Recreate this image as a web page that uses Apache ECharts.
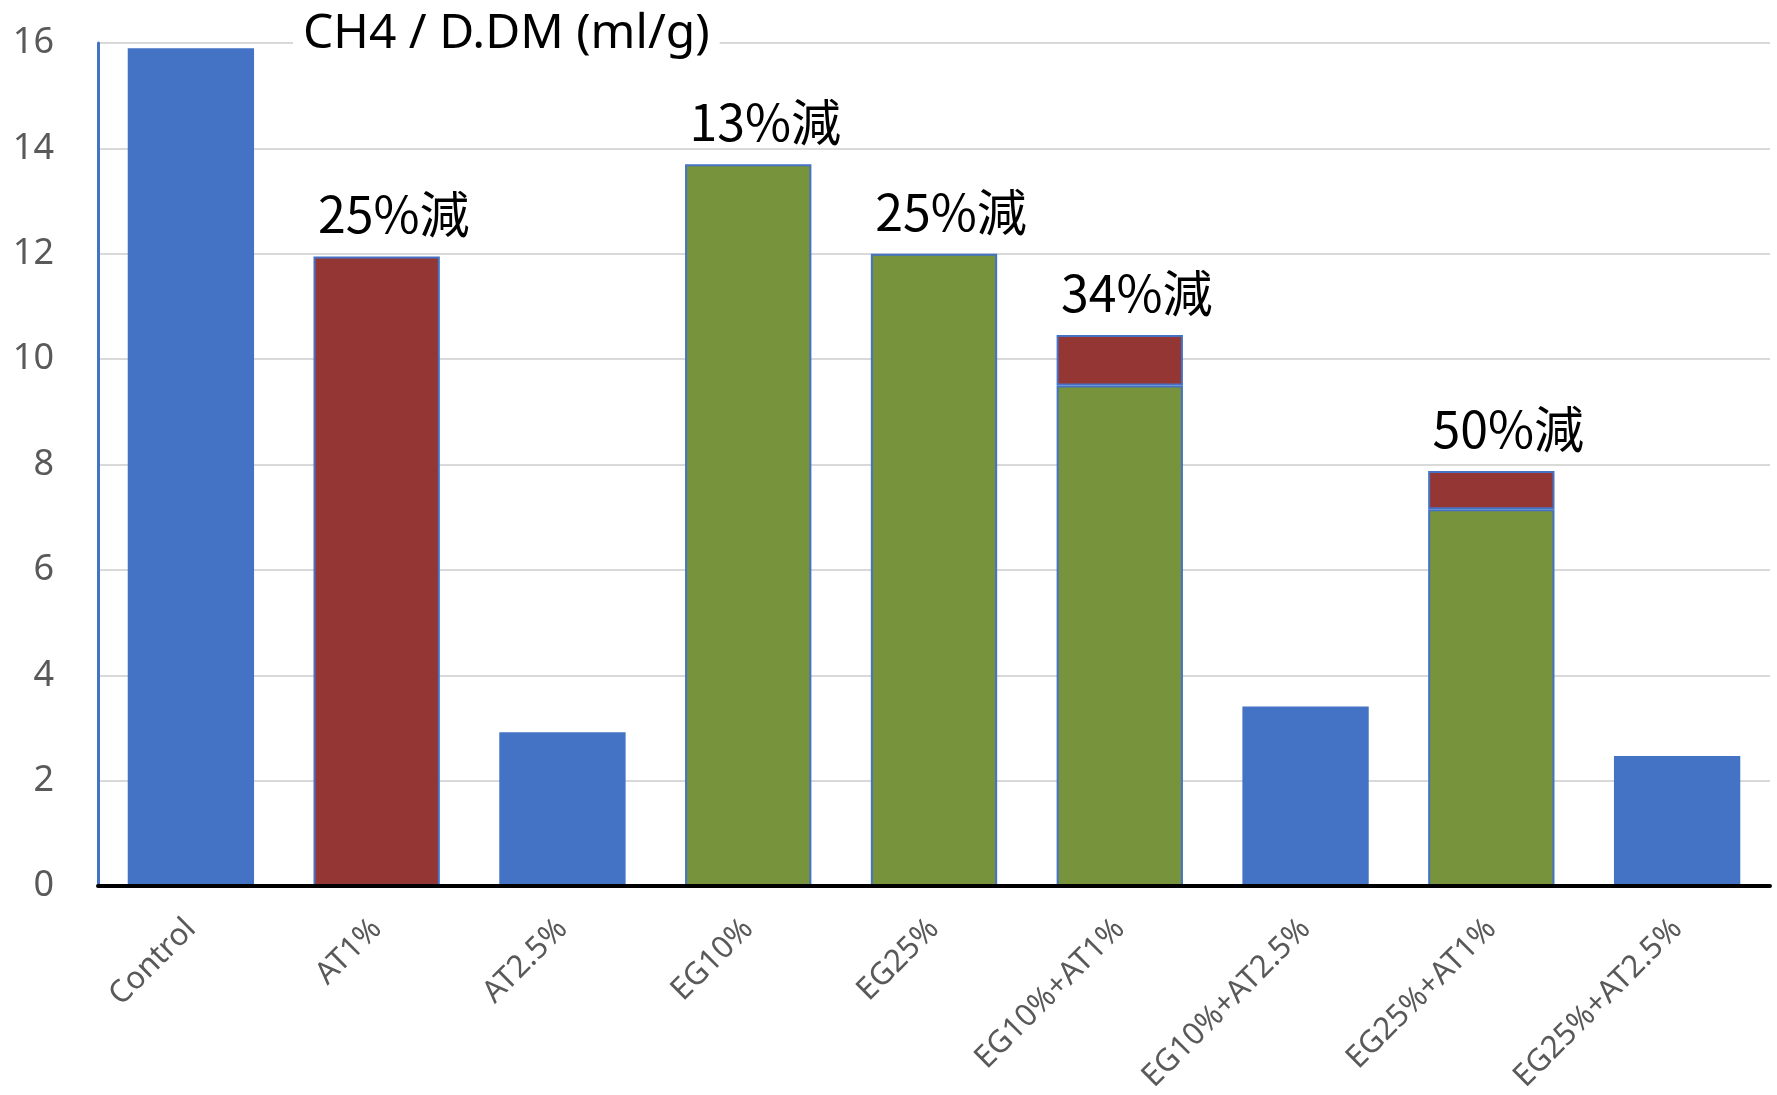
<!DOCTYPE html>
<html>
<head>
<meta charset="utf-8">
<title>CH4 / D.DM</title>
<script src="https://cdn.jsdelivr.net/npm/echarts@6/dist/echarts.min.js"></script>
<style>
  html, body { margin: 0; padding: 0; background: #fff; }
  #chart { width: 1777px; height: 1095px; }
</style>
</head>
<body>
<div id="chart"></div>
<script>
// Treatment groups along the x axis
const categories = ['Control', 'AT1%', 'AT2.5%', 'EG10%', 'EG25%', 'EG10%+AT1%', 'EG10%+AT2.5%', 'EG25%+AT1%', 'EG25%+AT2.5%'];

// Lower segment of each column (ml/g)
const baseValues = [15.9, 11.95, 2.92, 13.7, 12.0, 9.5, 3.41, 7.15, 2.47];
// Upper segment stacked on the combined treatments (ml/g)
const topValues = [null, null, null, null, null, 0.96, null, 0.73, null];
// Which fill each lower segment uses
const baseKinds = ['blue', 'red', 'blue', 'green', 'green', 'green', 'blue', 'green', 'blue'];
// Reduction notes written above selected columns
const reductionNotes = ['', '25%減', '', '13%減', '25%減', '34%減', '', '50%減', ''];

const yTicks = { min: 0, max: 16, interval: 2 };
const chartTitle = 'CH4 / D.DM (ml/g)';

const palette = { blue: '#4472C4', red: '#943634', green: '#77933C' };

const noteLabel = (text) => ({
  show: text !== '',
  position: 'top',
  distance: 17,
  offset: [17, 0],
  formatter: text,
  color: '#000',
  fontSize: 50,
  fontFamily: '"Noto Sans CJK JP", "Noto Sans", sans-serif'
});

const baseData = baseValues.map((v, i) => {
  const kind = baseKinds[i];
  const hasTop = topValues[i] !== null;
  return {
    value: v,
    itemStyle: {
      color: palette[kind],
      borderColor: palette.blue,
      borderWidth: kind === 'blue' ? 0 : 2
    },
    label: noteLabel(hasTop ? '' : reductionNotes[i])
  };
});

const topData = topValues.map((v, i) => {
  if (v === null) return { value: null };
  return {
    value: v,
    itemStyle: { color: palette.red, borderColor: palette.blue, borderWidth: 2 },
    label: noteLabel(reductionNotes[i])
  };
});

const chart = echarts.init(document.getElementById('chart'), null, { renderer: 'canvas' });

chart.setOption({
  backgroundColor: '#fff',
  animation: false,
  title: {
    text: chartTitle,
    left: 293,
    top: 7,
    padding: [0, 10],
    backgroundColor: '#fff',
    z: 10,
    textStyle: {
      color: '#000',
      fontSize: 48,
      fontWeight: 'normal',
      lineHeight: 54,
      fontFamily: '"Noto Sans", sans-serif'
    }
  },
  grid: { left: 98, right: 7, top: 43, bottom: 205 },
  xAxis: {
    type: 'category',
    data: categories,
    z: 3,
    axisLine: { show: true, lineStyle: { color: '#000', width: 4 } },
    axisTick: { show: false },
    axisLabel: {
      rotate: 45,
      margin: 38,
      color: '#595959',
      fontSize: 31,
      fontFamily: '"Noto Sans", sans-serif'
    }
  },
  yAxis: {
    type: 'value',
    min: yTicks.min,
    max: yTicks.max,
    interval: yTicks.interval,
    axisLine: { show: true, lineStyle: { color: '#4472C4', width: 3 } },
    axisTick: { show: false },
    splitLine: { show: true, lineStyle: { color: '#D9D9D9', width: 2 } },
    axisLabel: {
      margin: 44,
      color: '#595959',
      fontSize: 36,
      fontFamily: '"Noto Sans", sans-serif'
    }
  },
  series: [
    {
      name: 'base',
      type: 'bar',
      stack: 'col',
      barWidth: '68%',
      data: baseData
    },
    {
      name: 'top',
      type: 'bar',
      stack: 'col',
      barWidth: '68%',
      data: topData
    }
  ]
});
</script>
</body>
</html>
